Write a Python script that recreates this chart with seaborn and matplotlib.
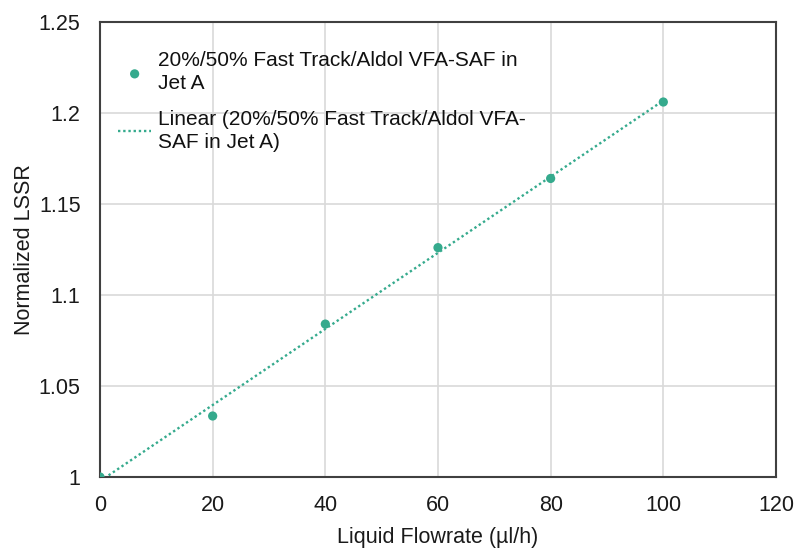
import numpy as np
import pandas as pd
import matplotlib
matplotlib.use("Agg")
import matplotlib.pyplot as plt
import seaborn as sns

# Measured normalized LSSR versus liquid flowrate
flowrate = [0, 20, 40, 60, 80, 100]
lssr = [1.000, 1.0335, 1.084, 1.126, 1.164, 1.206]

x_ticks = [0, 20, 40, 60, 80, 100, 120]
y_ticks = [1.0, 1.05, 1.1, 1.15, 1.2, 1.25]
y_tick_labels = ["1", "1.05", "1.1", "1.15", "1.2", "1.25"]

series_label = "20%/50% Fast Track/Aldol VFA-SAF in\nJet A"
trend_label = "Linear (20%/50% Fast Track/Aldol VFA-\nSAF in Jet A)"

teal = "#35AA8D"

sns.set_theme(style="white")
plt.rcParams["font.family"] = ["Liberation Sans", "DejaVu Sans"]

df = pd.DataFrame({"flowrate": flowrate, "lssr": lssr})

# Least-squares linear trendline through the measured points
slope, intercept = np.polyfit(df["flowrate"], df["lssr"], 1)
trend = pd.DataFrame({"flowrate": [min(flowrate), max(flowrate)]})
trend["lssr"] = intercept + slope * trend["flowrate"]

fig = plt.figure(figsize=(7.98, 5.48), dpi=100)
ax = fig.add_axes([0.1253, 0.1296, 0.8471, 0.8304])

sns.lineplot(data=trend, x="flowrate", y="lssr", ax=ax, color=teal,
             linestyle=(0, (1, 1.2)), linewidth=1.7, label=trend_label, zorder=2)
sns.scatterplot(data=df, x="flowrate", y="lssr", ax=ax, color=teal,
                s=44, edgecolor="none", label=series_label, zorder=3)

ax.set_xlim(0, 120)
ax.set_ylim(1.0, 1.25)
ax.set_xticks(x_ticks)
ax.set_xticklabels([str(t) for t in x_ticks])
ax.set_yticks(y_ticks)
ax.set_yticklabels(y_tick_labels)
ax.tick_params(axis="both", length=0, labelsize=15.5, colors="#1a1a1a")
ax.tick_params(axis="x", pad=13)
ax.tick_params(axis="y", pad=14)

ax.grid(True, color="#d9d9d9", linewidth=1.2)
ax.set_axisbelow(True)
for sp in ax.spines.values():
    sp.set_visible(True)
    sp.set_color("#404040")
    sp.set_linewidth(1.5)

ax.set_xlabel("Liquid Flowrate (µl/h)", fontsize=15.5, color="#1a1a1a", labelpad=8)
ax.set_ylabel("Normalized LSSR", fontsize=15.5, color="#1a1a1a", labelpad=2.5)

handles, labels = ax.get_legend_handles_labels()
order = [labels.index(series_label), labels.index(trend_label)]
leg = ax.legend([handles[i] for i in order], [labels[i] for i in order],
                loc="upper left", bbox_to_anchor=(0.0266, 0.937), frameon=False,
                fontsize=15, handlelength=1.6, handletextpad=0.3,
                labelspacing=0.8, borderaxespad=0.0, borderpad=0.0)
for t in leg.get_texts():
    t.set_color("#111111")
    t.set_linespacing(1.3)

fig.savefig("out.png", dpi=100)
